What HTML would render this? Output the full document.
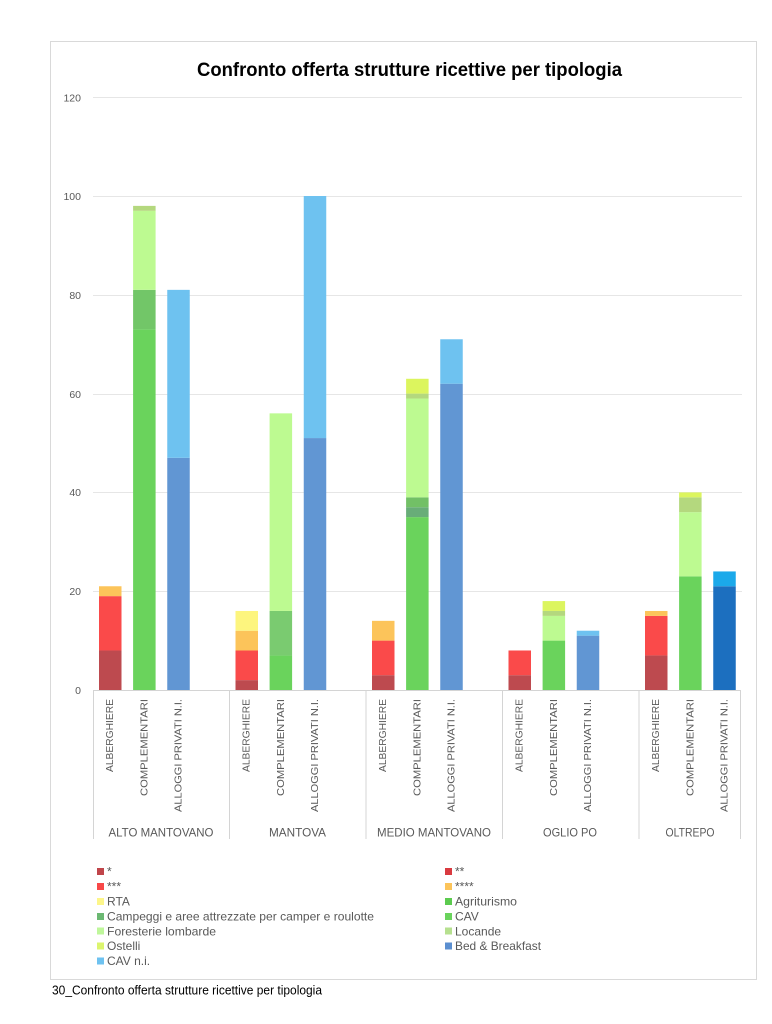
<!DOCTYPE html>
<html><head><meta charset="utf-8"><style>
html,body{margin:0;padding:0;background:#fff;}
svg{display:block;}
text{font-family:"Liberation Sans",Arial,sans-serif;}
</style></head><body>
<svg width="772" height="1024" viewBox="0 0 772 1024" xmlns="http://www.w3.org/2000/svg">
<rect x="0" y="0" width="772" height="1024" fill="#fff"/>
<rect x="50.5" y="41.5" width="706" height="938" fill="#fff" stroke="#d9d9d9" stroke-width="1"/>
<text x="409.5" y="76" text-anchor="middle" font-size="19" font-weight="bold" fill="#000" textLength="425" lengthAdjust="spacingAndGlyphs">Confronto offerta strutture ricettive per tipologia</text>

<!-- gridlines -->
<g stroke="#e6e6e6" stroke-width="1">
<line x1="93" y1="97.5" x2="742" y2="97.5"/>
<line x1="93" y1="196.5" x2="742" y2="196.5"/>
<line x1="93" y1="295.5" x2="742" y2="295.5"/>
<line x1="93" y1="394.5" x2="742" y2="394.5"/>
<line x1="93" y1="492.5" x2="742" y2="492.5"/>
<line x1="93" y1="591.5" x2="742" y2="591.5"/>
</g>
<g font-size="10.5" fill="#595959" text-anchor="end">
<text x="81" y="101.5">120</text>
<text x="81" y="200">100</text>
<text x="81" y="299">80</text>
<text x="81" y="398">60</text>
<text x="81" y="496">40</text>
<text x="81" y="595">20</text>
<text x="81" y="694">0</text>
</g>

<!-- bars -->
<g transform="translate(0,690) scale(1,-4.94)">
<!-- ALTO MANTOVANO -->
<rect x="99" y="0" width="22.5" height="8" fill="#bd4a4f"/>
<rect x="99" y="8" width="22.5" height="11" fill="#fa4a4a"/>
<rect x="99" y="19" width="22.5" height="2" fill="#fcc45a"/>
<rect x="133.1" y="0" width="22.5" height="73" fill="#6ad35c"/>
<rect x="133.1" y="73" width="22.5" height="8" fill="#72c668"/>
<rect x="133.1" y="81" width="22.5" height="16" fill="#bdfa91"/>
<rect x="133.1" y="97" width="22.5" height="1" fill="#b4d87e"/>
<rect x="167.25" y="0" width="22.5" height="47" fill="#6196d3"/>
<rect x="167.25" y="47" width="22.5" height="34" fill="#6ec2f0"/>
<!-- MANTOVA -->
<rect x="235.5" y="0" width="22.5" height="2" fill="#bd4a4f"/>
<rect x="235.5" y="2" width="22.5" height="6" fill="#fa4a4a"/>
<rect x="235.5" y="8" width="22.5" height="4" fill="#fcc45a"/>
<rect x="235.5" y="12" width="22.5" height="4" fill="#fdf57e"/>
<rect x="269.6" y="0" width="22.5" height="7" fill="#6ad35c"/>
<rect x="269.6" y="7" width="22.5" height="9" fill="#7acb70"/>
<rect x="269.6" y="16" width="22.5" height="40" fill="#bdfa91"/>
<rect x="303.75" y="0" width="22.5" height="51" fill="#6196d3"/>
<rect x="303.75" y="51" width="22.5" height="49" fill="#6ec2f0"/>
<!-- MEDIO MANTOVANO -->
<rect x="372" y="0" width="22.5" height="3" fill="#bd4a4f"/>
<rect x="372" y="3" width="22.5" height="7" fill="#fa4a4a"/>
<rect x="372" y="10" width="22.5" height="4" fill="#fcc45a"/>
<rect x="406.1" y="0" width="22.5" height="35" fill="#6ad35c"/>
<rect x="406.1" y="35" width="22.5" height="2" fill="#68ad78"/>
<rect x="406.1" y="37" width="22.5" height="2" fill="#72c066"/>
<rect x="406.1" y="39" width="22.5" height="20" fill="#bdfa91"/>
<rect x="406.1" y="59" width="22.5" height="1" fill="#b4d87e"/>
<rect x="406.1" y="60" width="22.5" height="3" fill="#dcf55e"/>
<rect x="440.25" y="0" width="22.5" height="62" fill="#6196d3"/>
<rect x="440.25" y="62" width="22.5" height="9" fill="#6ec2f0"/>
<!-- OGLIO PO -->
<rect x="508.5" y="0" width="22.5" height="3" fill="#bd4a4f"/>
<rect x="508.5" y="3" width="22.5" height="5" fill="#fa4a4a"/>
<rect x="542.6" y="0" width="22.5" height="10" fill="#6ad35c"/>
<rect x="542.6" y="10" width="22.5" height="5" fill="#bdfa91"/>
<rect x="542.6" y="15" width="22.5" height="1" fill="#b4d87e"/>
<rect x="542.6" y="16" width="22.5" height="2" fill="#dcf55e"/>
<rect x="576.75" y="0" width="22.5" height="11" fill="#6196d3"/>
<rect x="576.75" y="11" width="22.5" height="1" fill="#6ec2f0"/>
<!-- OLTREPO -->
<rect x="645" y="0" width="22.5" height="7" fill="#bd4a4f"/>
<rect x="645" y="7" width="22.5" height="8" fill="#fa4a4a"/>
<rect x="645" y="15" width="22.5" height="1" fill="#fcc45a"/>
<rect x="679.1" y="0" width="22.5" height="23" fill="#6ad35c"/>
<rect x="679.1" y="23" width="22.5" height="13" fill="#bdfa91"/>
<rect x="679.1" y="36" width="22.5" height="3" fill="#b4d87e"/>
<rect x="679.1" y="39" width="22.5" height="1" fill="#dcf55e"/>
<rect x="713.25" y="0" width="22.5" height="21" fill="#1c6fbf"/>
<rect x="713.25" y="21" width="22.5" height="3" fill="#1ba9ea"/>
</g>

<!-- axis -->
<g stroke="#d4d4d4" stroke-width="1">
<line x1="93" y1="690.5" x2="741" y2="690.5"/>
<line x1="93.5" y1="690" x2="93.5" y2="839"/>
<line x1="229.5" y1="690" x2="229.5" y2="839"/>
<line x1="366" y1="690" x2="366" y2="839"/>
<line x1="502.5" y1="690" x2="502.5" y2="839"/>
<line x1="639" y1="690" x2="639" y2="839"/>
<line x1="740.5" y1="690" x2="740.5" y2="839"/>
</g>

<!-- category labels -->
<g font-size="10.5" fill="#595959" text-anchor="end" dominant-baseline="central">
<text transform="translate(110,699) rotate(-90)" textLength="73" lengthAdjust="spacingAndGlyphs">ALBERGHIERE</text>
<text transform="translate(144.5,699) rotate(-90)" textLength="97" lengthAdjust="spacingAndGlyphs">COMPLEMENTARI</text>
<text transform="translate(178.5,699) rotate(-90)" textLength="113" lengthAdjust="spacingAndGlyphs">ALLOGGI PRIVATI N.I.</text>

<text transform="translate(246.5,699) rotate(-90)" textLength="73" lengthAdjust="spacingAndGlyphs">ALBERGHIERE</text>
<text transform="translate(281,699) rotate(-90)" textLength="97" lengthAdjust="spacingAndGlyphs">COMPLEMENTARI</text>
<text transform="translate(315,699) rotate(-90)" textLength="113" lengthAdjust="spacingAndGlyphs">ALLOGGI PRIVATI N.I.</text>

<text transform="translate(383,699) rotate(-90)" textLength="73" lengthAdjust="spacingAndGlyphs">ALBERGHIERE</text>
<text transform="translate(417.5,699) rotate(-90)" textLength="97" lengthAdjust="spacingAndGlyphs">COMPLEMENTARI</text>
<text transform="translate(451.5,699) rotate(-90)" textLength="113" lengthAdjust="spacingAndGlyphs">ALLOGGI PRIVATI N.I.</text>

<text transform="translate(519.5,699) rotate(-90)" textLength="73" lengthAdjust="spacingAndGlyphs">ALBERGHIERE</text>
<text transform="translate(554,699) rotate(-90)" textLength="97" lengthAdjust="spacingAndGlyphs">COMPLEMENTARI</text>
<text transform="translate(588,699) rotate(-90)" textLength="113" lengthAdjust="spacingAndGlyphs">ALLOGGI PRIVATI N.I.</text>

<text transform="translate(656,699) rotate(-90)" textLength="73" lengthAdjust="spacingAndGlyphs">ALBERGHIERE</text>
<text transform="translate(690.5,699) rotate(-90)" textLength="97" lengthAdjust="spacingAndGlyphs">COMPLEMENTARI</text>
<text transform="translate(724.5,699) rotate(-90)" textLength="113" lengthAdjust="spacingAndGlyphs">ALLOGGI PRIVATI N.I.</text>
</g>

<!-- group labels -->
<g font-size="12" fill="#595959" text-anchor="middle">
<text x="161" y="836.5" textLength="105" lengthAdjust="spacingAndGlyphs">ALTO MANTOVANO</text>
<text x="297.5" y="836.5" textLength="57" lengthAdjust="spacingAndGlyphs">MANTOVA</text>
<text x="434" y="836.5" textLength="114" lengthAdjust="spacingAndGlyphs">MEDIO MANTOVANO</text>
<text x="570" y="836.5" textLength="54" lengthAdjust="spacingAndGlyphs">OGLIO PO</text>
<text x="690" y="836.5" textLength="49" lengthAdjust="spacingAndGlyphs">OLTREPO</text>
</g>

<!-- legend -->
<g>
<rect x="97" y="868" width="7" height="7" fill="#c0454a"/>
<rect x="97" y="883" width="7" height="7" fill="#f84848"/>
<rect x="97" y="898" width="7" height="7" fill="#fdf68a"/>
<rect x="97" y="913" width="7" height="7" fill="#6bb872"/>
<rect x="97" y="927.5" width="7" height="7" fill="#bff79b"/>
<rect x="97" y="942.5" width="7" height="7" fill="#dcf56e"/>
<rect x="97" y="957.5" width="7" height="7" fill="#6ec2f0"/>

<rect x="445" y="868" width="7" height="7" fill="#d93a40"/>
<rect x="445" y="883" width="7" height="7" fill="#fcc45a"/>
<rect x="445" y="898" width="7" height="7" fill="#5ccb4f"/>
<rect x="445" y="913" width="7" height="7" fill="#6ad35c"/>
<rect x="445" y="927.5" width="7" height="7" fill="#b6e08f"/>
<rect x="445" y="942.5" width="7" height="7" fill="#5b8fd0"/>
</g>
<g font-size="12" fill="#595959">
<text x="107" y="875.5">*</text>
<text x="107" y="890.5">***</text>
<text x="107" y="905.5">RTA</text>
<text x="107" y="920.5" textLength="267" lengthAdjust="spacingAndGlyphs">Campeggi e aree attrezzate per camper e roulotte</text>
<text x="107" y="935.5" textLength="109" lengthAdjust="spacingAndGlyphs">Foresterie lombarde</text>
<text x="107" y="950">Ostelli</text>
<text x="107" y="965">CAV n.i.</text>

<text x="455" y="875.5">**</text>
<text x="455" y="890.5">****</text>
<text x="455" y="905.5" textLength="62" lengthAdjust="spacingAndGlyphs">Agriturismo</text>
<text x="455" y="920.5">CAV</text>
<text x="455" y="935.5">Locande</text>
<text x="455" y="950" textLength="86" lengthAdjust="spacingAndGlyphs">Bed &amp; Breakfast</text>
</g>

<text x="52" y="994.5" font-size="12.5" fill="#000" textLength="270" lengthAdjust="spacingAndGlyphs">30_Confronto offerta strutture ricettive per tipologia</text>
</svg>
</body></html>
